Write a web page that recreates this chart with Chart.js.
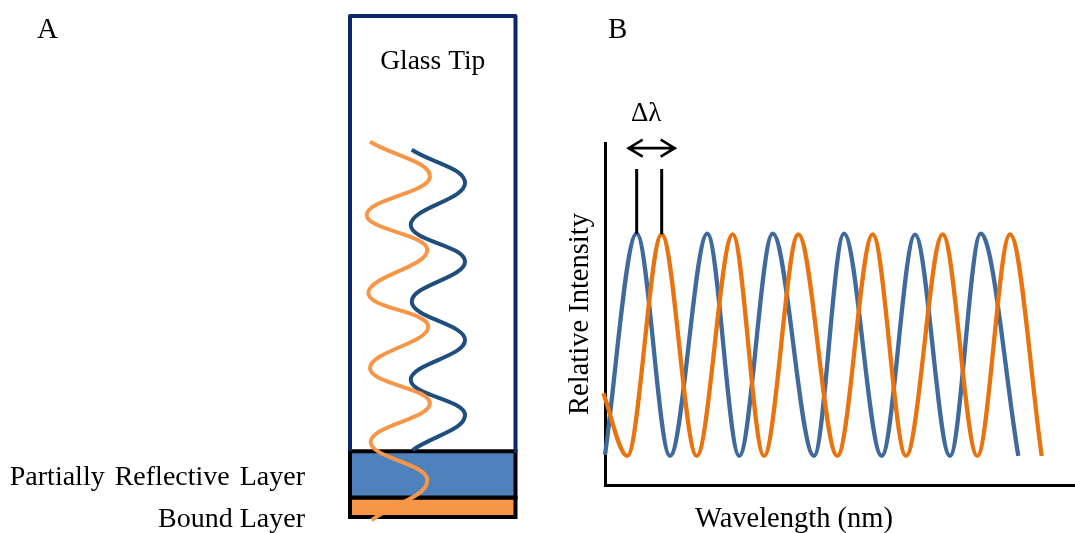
<!DOCTYPE html>
<html>
<head>
<meta charset="utf-8">
<title>Interference at the glass tip</title>
<script src="https://cdn.jsdelivr.net/npm/chart.js@4.4.1/dist/chart.umd.min.js"></script>
<style>
  html, body { margin: 0; padding: 0; background: #ffffff; }
  #wrap { position: relative; width: 1075px; height: 533px; overflow: hidden; }
  canvas { position: absolute; top: 0; }
  #tipCanvas { left: 0; }
  #specCanvas { left: 540px; }
</style>
</head>
<body>
<div id="wrap">
  <canvas id="tipCanvas" width="540" height="533"></canvas>
  <canvas id="specCanvas" width="535" height="533"></canvas>
</div>
<script>
// ---------- Panel A: tip cross-section (x: 0–10 across the tip, y: 0–100 from the tip end) ----------
const tipOutlineX = [0, 0, 10, 10];
const tipOutlineY = [13.1, 100, 100, 13.1];

const reflectiveLayerX = [0, 10, 10, 0, 0];
const reflectiveLayerY = [3.9, 3.9, 13.1, 13.1, 3.9];

const boundLayerX = [0, 10, 10, 0, 0];
const boundLayerY = [0, 0, 3.9, 3.9, 0];

const layerLabels = ['Partially Reflective Layer', 'Bound Layer'];

// light path reaching the bound layer (orange) and the wave reflected at the partial mirror (blue)
const boundWaveX = [1.21, 4.83, 1.01, 4.67, 1.11, 4.73, 1.21, 4.83, 1.25, 4.67, 1.31];
const boundWaveY = [74.9, 67.9, 60.3, 53.3, 44.7, 38.0, 29.7, 22.7, 15.0, 7.4, -0.6];

const mirrorWaveX = [3.73, 6.95, 3.67, 6.95, 3.73, 6.95, 3.67, 6.95, 3.79];
const mirrorWaveY = [73.3, 66.6, 58.3, 51.0, 43.0, 35.3, 27.4, 20.4, 13.4];

// ---------- Panel B: interference spectra (wavelength 0–100, relative intensity 0–1) ----------
const initialWavelength = [0, 6.74, 13.83, 21.77, 28.57, 35.68, 44.47, 50.85, 58.87, 65.96, 73.40, 79.94, 87.94];
const initialIntensity  = [0.088, 0.735, 0.085, 0.735, 0.085, 0.735, 0.085, 0.735, 0.085, 0.732, 0.085, 0.735, 0.085];

const shiftedWavelength = [-0.36, 4.74, 12.06, 19.51, 27.17, 33.83, 41.13, 49.43, 56.96, 64.04, 71.85, 79.21, 86.17, 92.91];
const shiftedIntensity  = [0.268, 0.085, 0.733, 0.085, 0.733, 0.085, 0.733, 0.085, 0.733, 0.085, 0.733, 0.085, 0.733, 0.085];

const shiftLabel = 'Δλ';
const xTitle = 'Wavelength (nm)';
const yTitle = 'Relative Intensity';

// ---------- shared helpers ----------
const SERIF = "'Liberation Serif', 'Times New Roman', serif";
Chart.defaults.font.family = SERIF;

const toPoints = (xs, ys) => xs.map((x, i) => ({ x: x, y: ys[i] }));

function firstPeakIndex(values) {
  for (let i = 1; i < values.length - 1; i++) {
    if (values[i] > values[i - 1] && values[i] >= values[i + 1]) return i;
  }
  return 0;
}

const baseLine = {
  showLine: true,
  pointRadius: 0,
  pointHoverRadius: 0,
  clip: false,
  capBezierPoints: false
};

// ---------- Panel A chart ----------
const tipLabels = {
  id: 'tipLabels',
  afterDraw(chart) {
    const { ctx, scales: { x, y } } = chart;
    ctx.save();
    ctx.fillStyle = '#000000';
    ctx.textBaseline = 'alphabetic';

    ctx.font = '29px ' + SERIF;
    ctx.textAlign = 'left';
    ctx.fillText('A', 37, 38);

    ctx.font = '27.5px ' + SERIF;
    ctx.textAlign = 'center';
    ctx.fillText('Glass Tip', (x.left + x.right) / 2, 69);

    ctx.font = '28px ' + SERIF;
    ctx.textAlign = 'right';
    const labelRight = x.getPixelForValue(0) - 45;
    const reflectiveMid = y.getPixelForValue((reflectiveLayerY[0] + reflectiveLayerY[2]) / 2);
    if ('wordSpacing' in ctx) ctx.wordSpacing = '3px';
    ctx.fillText(layerLabels[0], labelRight, reflectiveMid + 10.5);
    if ('wordSpacing' in ctx) ctx.wordSpacing = '0px';
    const boundMid = y.getPixelForValue((boundLayerY[0] + boundLayerY[2]) / 2);
    ctx.fillText(layerLabels[1], labelRight, boundMid + 20);
    ctx.restore();
  }
};

new Chart(document.getElementById('tipCanvas'), {
  type: 'scatter',
  data: {
    datasets: [
      Object.assign({}, baseLine, {
        data: toPoints(boundWaveX, boundWaveY),
        borderColor: '#f79646', borderWidth: 4, tension: 0.42,
        borderCapStyle: 'butt', order: 0
      }),
      Object.assign({}, baseLine, {
        data: toPoints(mirrorWaveX, mirrorWaveY),
        borderColor: '#1f4e7d', borderWidth: 4, tension: 0.42,
        borderCapStyle: 'butt', order: 1
      }),
      Object.assign({}, baseLine, {
        data: toPoints(tipOutlineX, tipOutlineY),
        borderColor: '#0b2766', borderWidth: 4, tension: 0,
        borderJoinStyle: 'round', order: 2
      }),
      Object.assign({}, baseLine, {
        data: toPoints(reflectiveLayerX, reflectiveLayerY),
        borderColor: '#000000', borderWidth: 4, tension: 0,
        fill: 'shape', backgroundColor: '#4f81bd',
        borderJoinStyle: 'miter', borderCapStyle: 'square', order: 3
      }),
      Object.assign({}, baseLine, {
        data: toPoints(boundLayerX, boundLayerY),
        borderColor: '#000000', borderWidth: 4, tension: 0,
        fill: 'shape', backgroundColor: '#f79646',
        borderJoinStyle: 'miter', borderCapStyle: 'square', order: 4
      })
    ]
  },
  options: {
    responsive: false,
    animation: false,
    events: [],
    layout: { padding: { left: 350, right: 24.5, top: 16, bottom: 16 } },
    scales: {
      x: { type: 'linear', min: 0, max: 10, display: false },
      y: { type: 'linear', min: 0, max: 100, display: false }
    },
    plugins: { legend: { display: false }, tooltip: { enabled: false } }
  },
  plugins: [tipLabels]
});

// ---------- Panel B chart ----------
const spectrumLabels = {
  id: 'spectrumLabels',
  afterDatasetsDraw(chart) {
    const { ctx, scales: { x, y } } = chart;
    const iA = firstPeakIndex(initialIntensity);
    const iB = firstPeakIndex(shiftedIntensity);
    const xa = x.getPixelForValue(initialWavelength[iA]);
    const xb = x.getPixelForValue(shiftedWavelength[iB]);
    const markTop = y.getPixelForValue(0.924);
    const arrowY = y.getPixelForValue(0.985);

    ctx.save();
    ctx.strokeStyle = '#000000';
    ctx.lineWidth = 3;
    ctx.lineCap = 'butt';
    ctx.beginPath();
    ctx.moveTo(xa, y.getPixelForValue(initialIntensity[iA]));
    ctx.lineTo(xa, markTop);
    ctx.moveTo(xb, y.getPixelForValue(shiftedIntensity[iB]));
    ctx.lineTo(xb, markTop);
    ctx.stroke();

    // double-headed arrow spanning the shift
    const left = xa - 9, right = xb + 14;
    ctx.lineWidth = 2.6;
    ctx.lineJoin = 'miter';
    ctx.beginPath();
    ctx.moveTo(left, arrowY);
    ctx.lineTo(right, arrowY);
    ctx.moveTo(left + 15, arrowY - 8.5);
    ctx.lineTo(left + 1, arrowY);
    ctx.lineTo(left + 15, arrowY + 8.5);
    ctx.moveTo(right - 15, arrowY - 8.5);
    ctx.lineTo(right - 1, arrowY);
    ctx.lineTo(right - 15, arrowY + 8.5);
    ctx.stroke();

    ctx.fillStyle = '#000000';
    ctx.font = '27px ' + SERIF;
    ctx.textAlign = 'center';
    ctx.textBaseline = 'alphabetic';
    ctx.fillText(shiftLabel, (xa + xb) / 2 - 3, arrowY - 27);
    ctx.restore();
  },
  afterDraw(chart) {
    const { ctx, chartArea } = chart;
    ctx.save();
    ctx.fillStyle = '#000000';
    ctx.textBaseline = 'alphabetic';

    ctx.font = '29px ' + SERIF;
    ctx.textAlign = 'left';
    ctx.fillText('B', 68, 38);

    ctx.font = '28.5px ' + SERIF;
    ctx.textAlign = 'center';
    ctx.fillText(xTitle, chartArea.left + 189, 527);

    ctx.translate(chartArea.left - 17, (chartArea.top + chartArea.bottom) / 2);
    ctx.rotate(-Math.PI / 2);
    ctx.fillText(yTitle, 0, 0);
    ctx.restore();
  }
};

const axisStyle = {
  type: 'linear',
  display: true,
  ticks: { display: false },
  grid: { display: false, drawTicks: false },
  border: { display: true, color: '#000000', width: 3 }
};

new Chart(document.getElementById('specCanvas'), {
  type: 'scatter',
  data: {
    datasets: [
      Object.assign({}, baseLine, {
        label: 'Shifted',
        data: toPoints(shiftedWavelength, shiftedIntensity),
        borderColor: '#e8730f', borderWidth: 4.3,
        cubicInterpolationMode: 'monotone', order: 0
      }),
      Object.assign({}, baseLine, {
        label: 'Initial',
        data: toPoints(initialWavelength, initialIntensity),
        borderColor: '#3f6a9b', borderWidth: 4.3,
        cubicInterpolationMode: 'monotone', order: 1
      })
    ]
  },
  options: {
    responsive: false,
    animation: false,
    events: [],
    layout: { padding: { left: 65, right: 0, top: 143, bottom: 48 } },
    scales: {
      x: Object.assign({}, axisStyle, { min: 0, max: 100 }),
      y: Object.assign({}, axisStyle, { min: 0, max: 1 })
    },
    plugins: { legend: { display: false }, tooltip: { enabled: false } }
  },
  plugins: [spectrumLabels]
});
</script>
</body>
</html>
